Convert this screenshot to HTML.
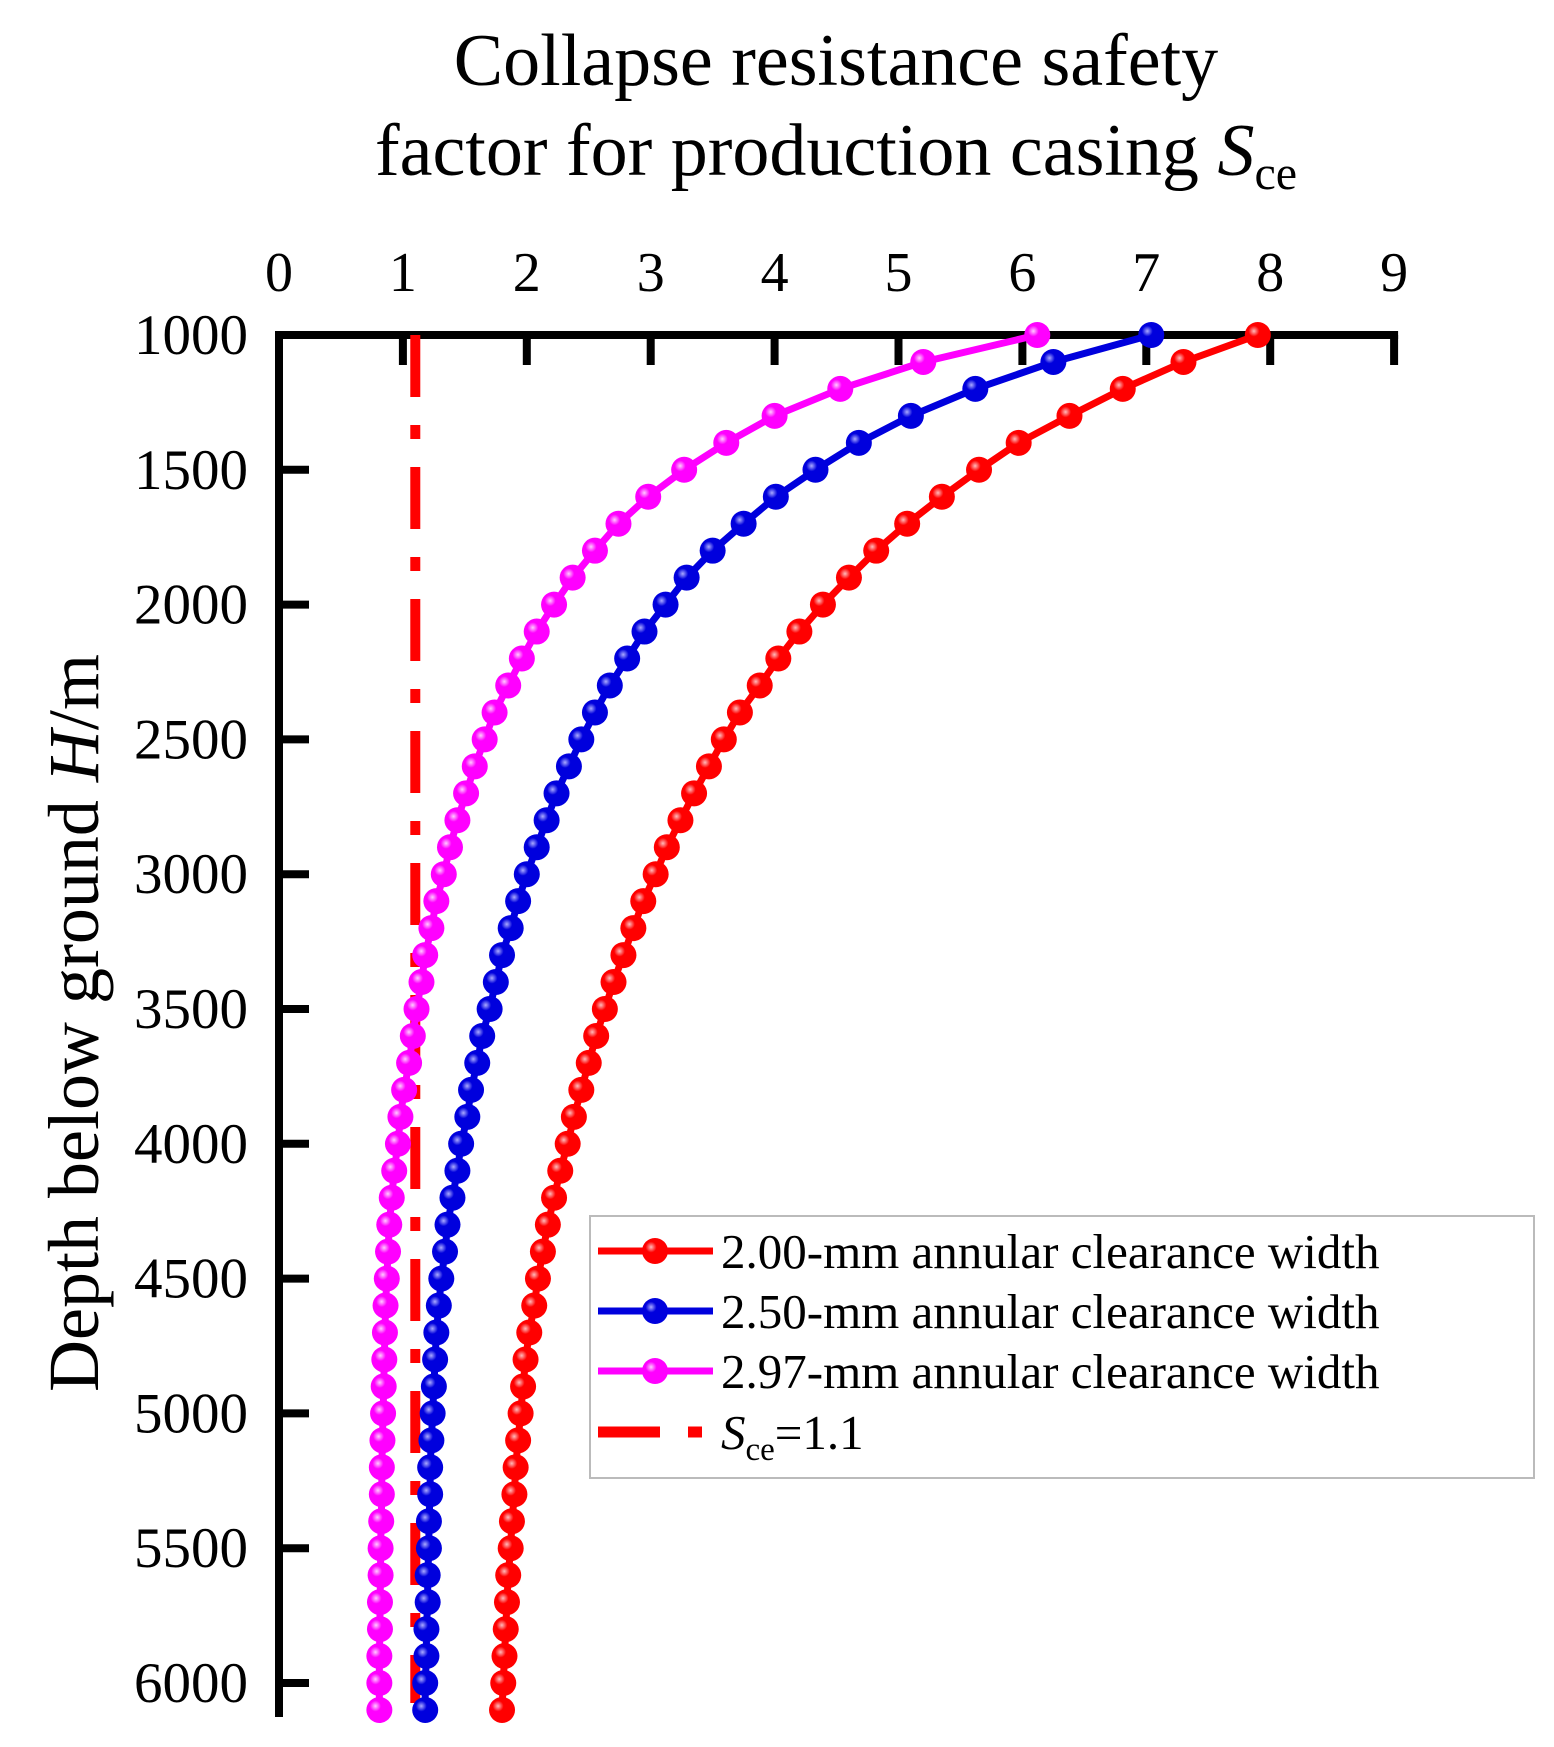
<!DOCTYPE html>
<html><head><meta charset="utf-8"><style>
body{margin:0;background:#fff;}
svg text{font-family:"Liberation Serif",serif;fill:#000;}
</style></head><body>
<svg id="chart" width="1554" height="1742" viewBox="0 0 1554 1742" xmlns="http://www.w3.org/2000/svg">
<defs>
<radialGradient id="gr" cx="0.35" cy="0.35" r="0.7"><stop offset="0" stop-color="#fbb"/><stop offset="0.3" stop-color="#f00"/><stop offset="1" stop-color="#f00"/></radialGradient>
<radialGradient id="gb" cx="0.35" cy="0.35" r="0.7"><stop offset="0" stop-color="#aaf"/><stop offset="0.3" stop-color="#00d"/><stop offset="1" stop-color="#00d"/></radialGradient>
<radialGradient id="gm" cx="0.35" cy="0.35" r="0.7"><stop offset="0" stop-color="#fcf"/><stop offset="0.3" stop-color="#f0f"/><stop offset="1" stop-color="#f0f"/></radialGradient>
</defs>
<text x="836" y="85" font-size="74" text-anchor="middle">Collapse resistance safety</text>
<text x="836" y="175" font-size="74" text-anchor="middle">factor for production casing <tspan font-style="italic">S</tspan><tspan font-size="48" dy="14">ce</tspan></text>
<text transform="translate(98,1023) rotate(-90)" font-size="72" text-anchor="middle">Depth below  ground <tspan font-style="italic">H</tspan>/m</text>
<g id="axes"></g>
<g id="plot"></g>
<g id="legend"></g>
</svg>
<script>
const depths = [];
for (let d = 1000; d <= 6100; d += 100) depths.push(d);
const xTicks = [0,1,2,3,4,5,6,7,8,9];
const yTicks = [1000,1500,2000,2500,3000,3500,4000,4500,5000,5500,6000];
const red = [7.9,7.3,6.81,6.38,5.97,5.65,5.35,5.07,4.82,4.6,4.39,4.2,4.03,3.88,3.72,3.59,3.47,3.35,3.24,3.13,3.04,2.94,2.86,2.78,2.7,2.63,2.56,2.5,2.44,2.38,2.33,2.27,2.22,2.17,2.13,2.09,2.06,2.02,1.99,1.97,1.95,1.93,1.91,1.9,1.88,1.87,1.85,1.84,1.83,1.82,1.81,1.8];
const blue = [7.04,6.25,5.62,5.1,4.68,4.33,4.01,3.75,3.5,3.29,3.12,2.95,2.81,2.67,2.55,2.44,2.34,2.24,2.16,2.08,2.0,1.93,1.87,1.8,1.75,1.7,1.64,1.6,1.55,1.52,1.47,1.44,1.4,1.36,1.34,1.31,1.29,1.27,1.26,1.25,1.24,1.23,1.22,1.22,1.21,1.21,1.2,1.2,1.19,1.19,1.18,1.18];
const magenta = [6.12,5.2,4.53,4.0,3.61,3.27,2.98,2.74,2.55,2.37,2.22,2.08,1.96,1.85,1.74,1.66,1.58,1.51,1.44,1.38,1.33,1.27,1.23,1.18,1.15,1.11,1.08,1.05,1.01,0.98,0.96,0.93,0.91,0.89,0.88,0.87,0.86,0.855,0.85,0.845,0.84,0.835,0.83,0.83,0.825,0.82,0.82,0.815,0.815,0.81,0.81,0.81];
const limitValue = 1.1;
const legendLabels = ["2.00-mm annular clearance width","2.50-mm annular clearance width","2.97-mm annular clearance width"];

const NS = "http://www.w3.org/2000/svg";
const X0 = 279, XU = 123.9, Y0 = 335, YU = 134.8/500;
function sx(v){ return X0 + v*XU; }
function sy(d){ return Y0 + (d-1000)*YU; }
function mk(tag, attrs, parent){ const e=document.createElementNS(NS,tag); for(const k in attrs) e.setAttribute(k,attrs[k]); parent.appendChild(e); return e; }

const axes = document.getElementById('axes');
const plot = document.getElementById('plot');
const legend = document.getElementById('legend');
const yBottom = 1713;

let ax = mk('path',{d:`M${sx(9)},${Y0} L${sx(0)},${Y0} L${sx(0)},${yBottom}`,stroke:'#000','stroke-width':8,fill:'none','stroke-linecap':'square'},axes);



xTicks.forEach(t=>{
  if(t>0){
    const l = mk('line',{x1:sx(t),x2:sx(t),y1:Y0,y2:Y0+30,stroke:'#000','stroke-width':8},axes);
    
    
  }
  const tx = mk('text',{x:sx(t),y:291,'font-size':56,'text-anchor':'middle'},axes);
  tx.textContent = t;
  
  
});
yTicks.forEach(t=>{
  if(t>1000){
    const l = mk('line',{x1:sx(0),x2:sx(0)+30,y1:sy(t),y2:sy(t),stroke:'#000','stroke-width':8},axes);
    
    
  }
  const tx = mk('text',{x:248,y:sy(t)+19,'font-size':57,'text-anchor':'end'},axes);
  tx.textContent = t;
  
  
});

const lim = mk('line',{x1:sx(limitValue),x2:sx(limitValue),y1:Y0,y2:yBottom-10,stroke:'#f00','stroke-width':10,'stroke-dasharray':'62 28 14 28'},plot);



function series(vals,color,grad,name){
  const g = mk('g',{},plot);
  
  
  const pts = vals.map((v,i)=>`${sx(v)},${sy(depths[i])}`).join(' ');
  const pl = mk('polyline',{points:pts,fill:'none',stroke:color,'stroke-width':7},g);
  
  
  vals.forEach((v,i)=>{
    const c = mk('circle',{cx:sx(v),cy:sy(depths[i]),r:13,fill:`url(#${grad})`},g);
    
    
  });
}
series(red,'#f00','gr','series-2-00mm');
series(blue,'#00d','gb','series-2-50mm');
series(magenta,'#f0f','gm','series-2-97mm');

const box = mk('rect',{x:590,y:1216,width:944,height:262,fill:'#fff',stroke:'#bbb','stroke-width':2},legend);


const lcols=['#f00','#00d','#f0f'], lgr=['gr','gb','gm'];
const ly=[1251,1311,1371];
legendLabels.forEach((lab,i)=>{
  const l = mk('line',{x1:598,x2:713,y1:ly[i],y2:ly[i],stroke:lcols[i],'stroke-width':7},legend);
  
  
  const c = mk('circle',{cx:655,cy:ly[i],r:13,fill:`url(#${lgr[i]})`},legend);
  
  
  const t = mk('text',{x:721,y:ly[i]+17,'font-size':49},legend);
  t.textContent = lab;
  
  
});
const ll = mk('line',{x1:598,x2:713,y1:1432,y2:1432,stroke:'#f00','stroke-width':11,'stroke-dasharray':'62 28 14 28'},legend);


const lt = mk('text',{x:721,y:1449,'font-size':49},legend);
lt.innerHTML = '<tspan font-style="italic">S</tspan><tspan font-size="33" dy="11">ce</tspan><tspan dy="-11">=1.1</tspan>';


</script>
</body></html>
